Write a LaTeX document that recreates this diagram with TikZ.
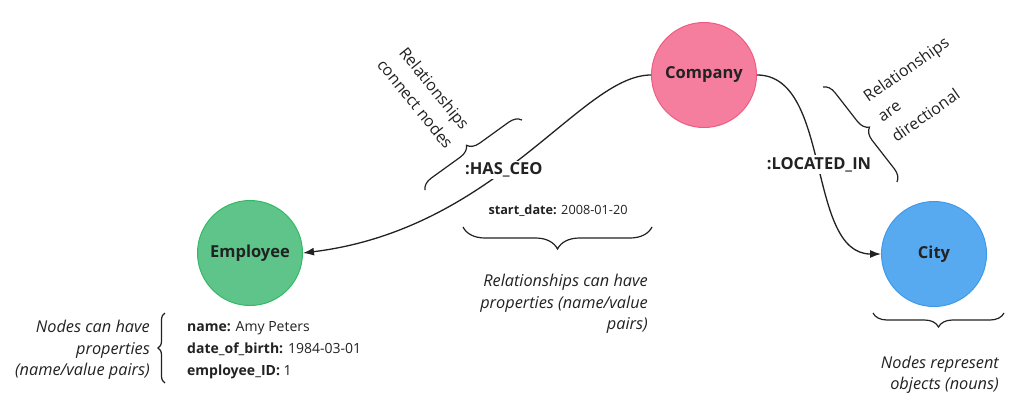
\documentclass[tikz,border=0pt]{standalone}
\usepackage{fontspec}
\setmainfont{Open Sans}
\usetikzlibrary{arrows.meta,decorations.pathreplacing}
\definecolor{companypink}{RGB}{245,126,158}
\definecolor{companyedge}{RGB}{238,92,132}
\definecolor{employeegreen}{RGB}{94,196,138}
\definecolor{employeeedge}{RGB}{52,186,102}
\definecolor{cityblue}{RGB}{88,170,240}
\definecolor{cityedge}{RGB}{62,154,234}
\definecolor{inkgray}{RGB}{34,34,34}

\begin{document}
\begin{tikzpicture}[
    x=1pt, y=-1pt,
    entity/.style={circle, draw, line width=1pt, minimum size=105pt, inner sep=0pt, font=\fontsize{16.5}{20}\selectfont\bfseries, text=inkgray},
    rel/.style={-{Latex[length=11pt,width=8pt]}, line width=1.3pt, draw=inkgray},
    rellabel/.style={fill=white, inner sep=2pt, font=\fontsize{16.5}{20}\selectfont\bfseries, text=inkgray},
    note/.style={font=\fontsize{16.3}{21.5}\selectfont\itshape, text=inkgray, align=right, inner sep=0pt},
    tilted/.style={font=\fontsize{16}{24.5}\selectfont, text=inkgray, inner sep=0pt},
    props/.style={font=\fontsize{14}{22}\selectfont, text=inkgray, align=left, inner sep=0pt},
    curly/.style={decorate, decoration={brace, amplitude=#1}, line width=1.2pt, draw=inkgray}
  ]
    \path[use as bounding box, fill=white] (0,0) rectangle (1024,405);

    % entities
    \node[entity, fill=companypink, draw=companyedge] (company) at (704,75) {Company};
    \node[entity, fill=employeegreen, draw=employeeedge] (employee) at (250,253) {Employee};
    \node[entity, fill=cityblue, draw=cityedge] (city) at (934,254) {City};

    % relationships
    \draw[rel] (company.west) .. controls +(-70,0) and +(195,-24) .. node[rellabel, pos=0.56] (hasceo) {:HAS\_CEO} (employee.east);
    \draw[rel] (company.east) .. controls +(75,0) and +(-75,0) .. node[rellabel, pos=0.5] (locatedin) {:LOCATED\_IN} (city.west);

    % properties
    \node[props, font=\fontsize{12.7}{16}\selectfont] (startdate) at (558,211) {\textbf{start\_date:} 2008-01-20};
    \node[props, anchor=west] (empprops) at (187,350) {\textbf{name:} Amy Peters\\\textbf{date\_of\_birth:} 1984-03-01\\\textbf{employee\_ID:} 1};

    % braces
    \draw[curly=22pt] (652,227) -- (463,227);
    \draw[curly=14pt] (1004,313) -- (873,313);
    \draw[curly=7pt] (165,383) -- (165,313);
    \draw[curly=12pt] (425,190) -- (522,120);
    \draw[curly=12pt] (823,87) -- (897,182);

    % notes
    \node[note, anchor=east] (relprops) at (648,304) {Relationships can have\\properties (name/value\\pairs)};
    \node[note, anchor=east] (nodeprops) at (150,350) {Nodes can have\\properties\\(name/value pairs)};
    \node[note, anchor=east] (nodenouns) at (999,375) {Nodes represent\\objects (nouns)};
    \node[tilted, rotate=-51, align=center] (relconnect) at (425,96) {Relationships\\connect nodes};
    \node[tilted, rotate=35, align=left] (reldirect) at (920,89) {Relationships\\are\\directional};
  \end{tikzpicture}
\end{document}
